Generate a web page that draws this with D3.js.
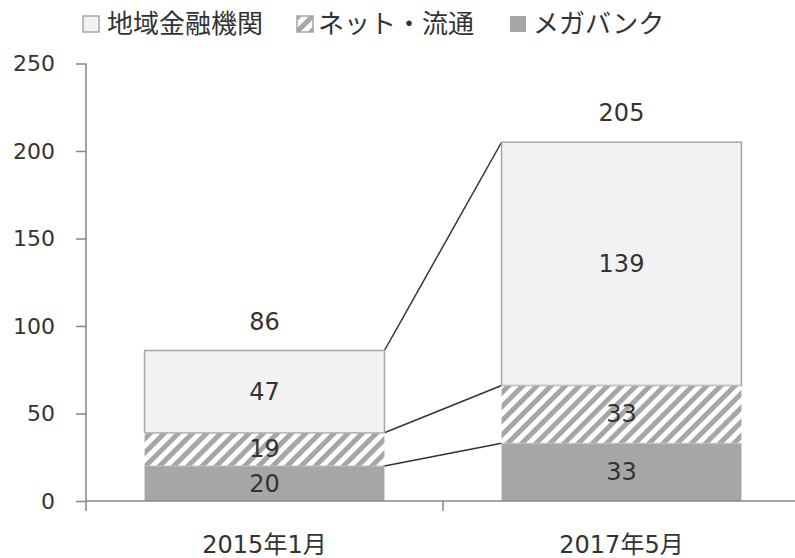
<!DOCTYPE html>
<html>
<head>
<meta charset="utf-8">
<script src="https://cdn.jsdelivr.net/npm/d3@7"></script>
<style>
  body { margin: 0; background: #fff; }
  svg { display: block; }
  text { font-family: "DejaVu Sans", "Noto Sans CJK JP", sans-serif; fill: #333; }
</style>
</head>
<body>
<svg id="chart" width="795" height="558"></svg>
<script>
const categories = ["2015年1月", "2017年5月"];
const seriesNames = ["メガバンク", "ネット・流通", "地域金融機関"];
const megabank = [20, 33];
const netRetail = [19, 33];
const regional = [47, 139];
const totals = [86, 205];
const yTicks = [0, 50, 100, 150, 200, 250];
const legendOrder = ["地域金融機関", "ネット・流通", "メガバンク"];

const svg = d3.select("#chart");
const W = 795, H = 558;
const plot = { left: 86, right: 800, top: 63.5, bottom: 501 };

const defs = svg.append("defs");
const pat = defs.append("pattern")
  .attr("id", "hatch").attr("patternUnits", "userSpaceOnUse")
  .attr("width", 10).attr("height", 10)
  .attr("patternTransform", "rotate(45)");
pat.append("rect").attr("width", 10).attr("height", 10).attr("fill", "#fff");
pat.append("rect").attr("x", 0).attr("width", 5).attr("height", 10).attr("fill", "#a6a6a6");

const x = d3.scaleBand().domain(categories).range([plot.left, plot.right])
  .paddingInner(0.328).paddingOuter(0.164);
const y = d3.scaleLinear().domain([0, 250]).range([plot.bottom, plot.top]);

const rows = categories.map((c, i) => ({ cat: c, megabank: megabank[i], net: netRetail[i], regional: regional[i] }));
const keys = ["megabank", "net", "regional"];
const stack = d3.stack().keys(keys)(rows);
const fills = { megabank: "#a6a6a6", net: "url(#hatch)", regional: "#f2f2f2" };
const strokes = { megabank: "none", net: "none", regional: "#a6a6a6" };

// connector lines
stack.forEach(layer => {
  const a = layer[0], b = layer[1];
  svg.append("line")
    .attr("x1", x(categories[0]) + x.bandwidth()).attr("y1", y(a[1]))
    .attr("x2", x(categories[1])).attr("y2", y(b[1]))
    .attr("stroke", "#333").attr("stroke-width", 1.5);
});

// bars
stack.forEach(layer => {
  svg.append("g").selectAll("rect").data(layer).join("rect")
    .attr("x", d => x(d.data.cat))
    .attr("y", d => y(d[1]))
    .attr("width", x.bandwidth())
    .attr("height", d => y(d[0]) - y(d[1]))
    .attr("fill", fills[layer.key])
    .attr("stroke", strokes[layer.key])
    .attr("stroke-width", 1.5);
});
// regional stroke on top of others fine; draw separator lines
stack.forEach(layer => {
  svg.append("g").selectAll("line").data(layer).join("line")
    .attr("x1", d => x(d.data.cat)).attr("x2", d => x(d.data.cat) + x.bandwidth())
    .attr("y1", d => y(d[0])).attr("y2", d => y(d[0]))
    .attr("stroke", layer.key === "megabank" ? "none" : "#c0c0c0").attr("stroke-width", 1);
});

// segment labels
stack.forEach(layer => {
  svg.append("g").selectAll("text").data(layer).join("text")
    .attr("x", d => x(d.data.cat) + x.bandwidth() / 2)
    .attr("y", d => (y(d[0]) + y(d[1])) / 2)
    .attr("text-anchor", "middle").attr("dominant-baseline", "central")
    .attr("font-size", 24)
    .text(d => d[1] - d[0]);
});
// total labels
svg.append("g").selectAll("text").data(categories).join("text")
  .attr("x", d => x(d) + x.bandwidth() / 2)
  .attr("y", (d, i) => y(totals[i]) - 29)
  .attr("text-anchor", "middle").attr("dominant-baseline", "central")
  .attr("font-size", 24)
  .text((d, i) => totals[i]);

// y axis
const yAxis = d3.axisLeft(y).tickValues(yTicks).tickSize(10).tickPadding(21);
const gy = svg.append("g").attr("transform", `translate(${plot.left},0)`).call(yAxis);
gy.select(".domain").attr("stroke", "#868686").attr("stroke-width", 1.5).attr("d", `M0,${plot.top}V${plot.bottom}`);
gy.selectAll(".tick line").attr("stroke", "#868686").attr("stroke-width", 1.5);
gy.selectAll(".tick text").attr("font-size", 22).attr("font-family", "DejaVu Sans").attr("fill", "#333");

// x axis
const gx = svg.append("g");
gx.append("line").attr("x1", plot.left).attr("x2", plot.right)
  .attr("y1", plot.bottom).attr("y2", plot.bottom)
  .attr("stroke", "#868686").attr("stroke-width", 1.5);
const edges = [plot.left, plot.left + x.step(), plot.left + 2 * x.step()];
gx.selectAll("line.t").data(edges).join("line").attr("class", "t")
  .attr("x1", d => d).attr("x2", d => d)
  .attr("y1", plot.bottom).attr("y2", plot.bottom + 10)
  .attr("stroke", "#868686").attr("stroke-width", 1.5);
gx.selectAll("text").data(categories).join("text")
  .attr("x", d => x(d) + x.bandwidth() / 2)
  .attr("y", 553)
  .attr("text-anchor", "middle")
  .attr("font-size", 24)
  .text(d => d);

// legend
const legendItems = [
  { name: legendOrder[0], sx: 83, tx: 107, fill: "#f2f2f2", stroke: "#a6a6a6" },
  { name: legendOrder[1], sx: 297, tx: 318, fill: "url(#hatch)", stroke: "#a6a6a6" },
  { name: legendOrder[2], sx: 510, tx: 533, fill: "#a6a6a6", stroke: "none" }
];
const lg = svg.append("g");
legendItems.forEach(it => {
  lg.append("rect").attr("x", it.sx).attr("y", 16).attr("width", 16).attr("height", 16)
    .attr("fill", it.fill).attr("stroke", it.stroke).attr("stroke-width", 1.5);
  lg.append("text").attr("x", it.tx).attr("y", 24).attr("dominant-baseline", "central")
    .attr("font-size", 26).attr("font-family", "Noto Sans CJK JP").text(it.name);
});
</script>
</body>
</html>
